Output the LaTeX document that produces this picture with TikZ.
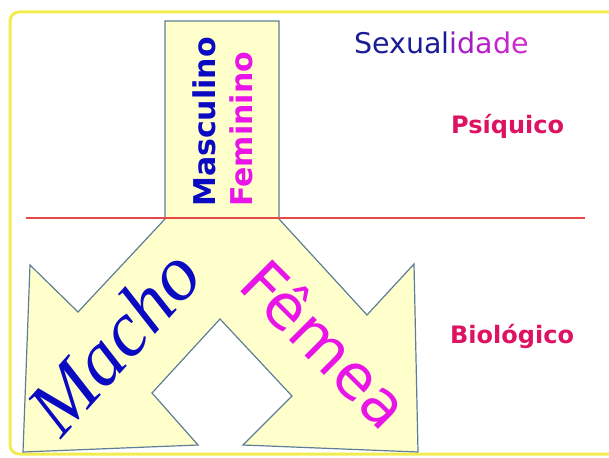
\documentclass[tikz,border=0pt]{standalone}
\usepackage{fontspec}
\setmainfont{DejaVu Sans}
\newfontfamily\serifit{Liberation Serif}
\definecolor{shapefill}{RGB}{255,255,204}
\definecolor{shapeedge}{RGB}{95,125,150}
\definecolor{frameyellow}{RGB}{242,236,80}
\definecolor{redline}{RGB}{232,72,72}
\definecolor{navyS}{RGB}{28,28,150}
\definecolor{blueM}{RGB}{10,10,195}
\definecolor{magentaF}{RGB}{232,20,232}
\definecolor{crimson}{RGB}{222,18,98}
\definecolor{idA}{RGB}{140,30,190}
\definecolor{idB}{RGB}{165,30,195}
\definecolor{idC}{RGB}{185,30,200}
\definecolor{idD}{RGB}{200,35,205}
\definecolor{idE}{RGB}{205,45,205}
\tikzset{
  txt/.style={inner sep=0pt, anchor=base west},
  boldlabel/.style={txt, text=crimson, font=\bfseries\fontsize{24}{28}\selectfont},
  vertlabel/.style={txt, rotate=90, font=\bfseries\fontsize{30}{36}\selectfont},
}
\begin{document}
\begin{tikzpicture}[x=1pt,y=-1pt]
\useasboundingbox (0,0) rectangle (609,457);
% outer frame
\draw[frameyellow, line width=3pt, rounded corners=9pt] (10,12) rectangle (650,454);
% combined shape
\filldraw[fill=shapefill, draw=shapeedge, line width=1.2pt, line join=miter]
  (165,21) -- (279,21) -- (279,219) -- (367,315) -- (414,264) -- (418,452)
  -- (243,445) -- (292,396) -- (220,319) -- (152,393) -- (198,445)
  -- (23,452) -- (30,265) -- (78,312) -- (165,219) -- cycle;
% divider
\coordinate (lineL) at (26,218);
\coordinate (lineR) at (585,218);
\draw[redline, line width=1.5pt] (lineL) -- (lineR);
% texts
\node[vertlabel, text=blueM] (masc) at (215,207) {Masculino};
\node[vertlabel, text=magentaF] (fem) at (252,207) {Feminino};
\node[txt, font=\fontsize{28.5}{34}\selectfont] (sex) at (354,54)
  {\textcolor{navyS}{Sexual}\textcolor{idA}{i}\textcolor{idB}{d}\textcolor{idC}{a}\textcolor{idD}{d}\textcolor{idE}{e}};
\node[boldlabel] (psi) at (451,134) {Psíquico};
\node[boldlabel] (bio) at (450,343) {Biológico};
\node[txt, rotate=48, text=blueM, font=\serifit\itshape\fontsize{78}{90}\selectfont] (macho) at (61,440) {Macho};
\node[txt, rotate=-45, text=magentaF, font=\fontsize{62}{72}\selectfont] (femea) at (236,287) {Fêmea};
\end{tikzpicture}
\end{document}
